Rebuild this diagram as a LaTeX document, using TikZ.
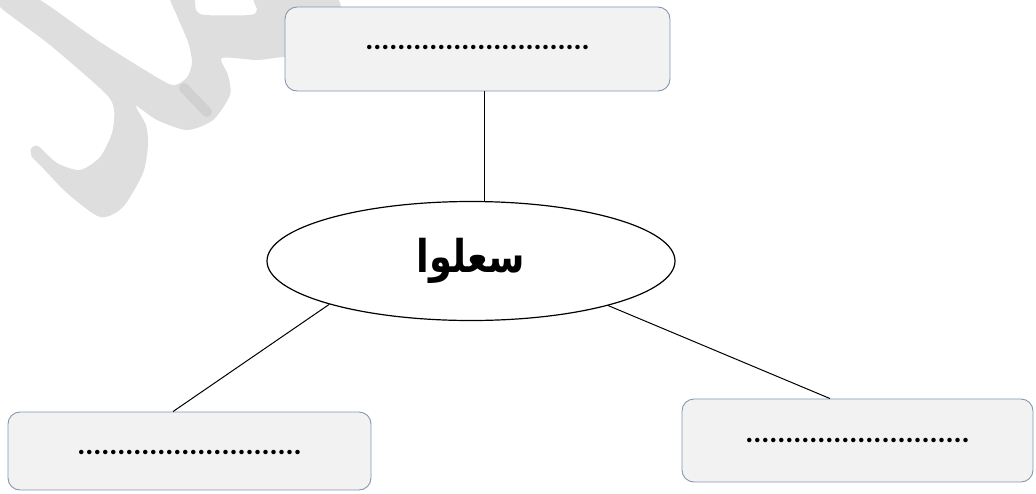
\documentclass[tikz,border=0pt]{standalone}
\usepackage{fontspec}
\setmainfont{Carlito}
\newfontfamily\arabicfont[Script=Arabic]{DejaVu Sans}
\TeXXeTstate=1
\usetikzlibrary{shapes.geometric}
\definecolor{boxfill}{HTML}{F2F2F2}
\definecolor{boxline}{HTML}{8497B0}
\definecolor{wm}{HTML}{DEDEDE}
\definecolor{wmdark}{HTML}{D0D0D0}
\begin{document}
\begin{tikzpicture}[x=1pt,y=-1pt,
  box/.style={draw=boxline, fill=boxfill, rounded corners=12pt, line width=0.9pt,
    inner sep=0pt, font=\bfseries\fontsize{30}{30}\selectfont, text height=0pt, text depth=0pt},
  hub/.style={ellipse, draw=black, line width=1.2pt, fill=white, minimum width=408pt,
    minimum height=119pt, inner sep=0pt, font=\arabicfont\bfseries\fontsize{37}{40}\selectfont},
  link/.style={draw=black, line width=1pt}]
\useasboundingbox (0,0) rectangle (1036,493);
% watermark
\fill[wm] plot[smooth cycle, tension=0.45] coordinates {
  (0,-4) (33,-4) (100,42) (165,82) (178,84) (188,76) (192,62) (188,42) (178,18) (170,-4)
  (193,-4) (196,10) (205,15) (250,15) (257,10) (258,-4) (336,-4) (336,53) (283,57) (257,60) (222,58)
  (228,75) (230,95) (213,120) (187,130) (157,120) (136,106)
  (146,125) (148,145) (143,173) (123,207) (100,217) (67,193) (40,165) (32,157) (31,149) (38,146)
  (57,163) (80,170) (100,157) (112,133) (114,110) (105,93) (50,45) (0,7)};
\draw[wmdark, line width=10pt, line cap=round] (184,88) -- (207,112);
% boxes
\node[box, minimum width=385pt, minimum height=84pt] (top) at (477.5,49) {............................};
\node[box, minimum width=363pt, minimum height=78pt, text height=7pt] (bl) at (189.5,451) {............................};
\node[box, minimum width=351pt, minimum height=83pt, text height=3pt] (br) at (857.5,440.5) {............................};
% hub
\node[hub] (hub) at (471,261) {\scalebox{1}[1.22]{\beginR سعلوا\endR}};
% connectors
\draw[link] ([xshift=6.5pt]top.south) -- ([xshift=13pt]hub.north);
\draw[link] (hub.197.7) -- ([xshift=-16.5pt]bl.north);
\draw[link] (hub.342.3) -- ([xshift=-27.5pt]br.north);
\end{tikzpicture}
\end{document}
